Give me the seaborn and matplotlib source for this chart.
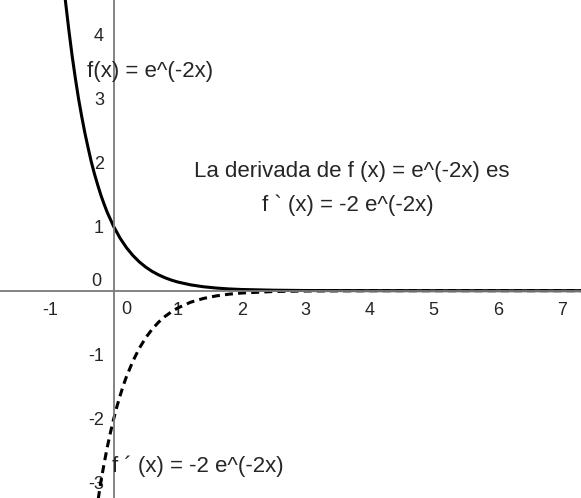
import pandas as pd
import seaborn as sns
import matplotlib.pyplot as plt

x_f = [-0.76, -0.7, -0.65, -0.6, -0.55, -0.5, -0.45, -0.4, -0.35, -0.3, -0.25, -0.2, -0.15, -0.1, -0.05,
       0.0, 0.1, 0.2, 0.3, 0.4, 0.5, 0.6, 0.7, 0.8, 0.9, 1.0, 1.2, 1.4, 1.6, 1.8, 2.0, 2.5, 3.0, 4.0, 5.0, 6.0, 7.3]
y_f = [4.57, 4.06, 3.67, 3.32, 3.00, 2.72, 2.46, 2.23, 2.01, 1.82, 1.65, 1.49, 1.35, 1.22, 1.11,
       1.00, 0.819, 0.670, 0.549, 0.449, 0.368, 0.301, 0.247, 0.202, 0.165, 0.135, 0.091, 0.061, 0.041, 0.027, 0.018, 0.007, 0.002, 0.0003, 0.0, 0.0, 0.0]

# f'(x) = -2 e^(-2x)
x_d = [-0.26, -0.2, -0.15, -0.1, -0.05, 0.0, 0.05, 0.1, 0.15, 0.2, 0.3, 0.4, 0.5, 0.6, 0.7, 0.8, 0.9, 1.0,
       1.2, 1.4, 1.6, 1.8, 2.0, 2.5, 3.0, 4.0, 5.0, 6.0, 7.3]
y_d = [-3.37, -2.98, -2.70, -2.44, -2.21, -2.00, -1.81, -1.64, -1.48, -1.34, -1.10, -0.899, -0.736, -0.602, -0.493, -0.404, -0.331, -0.271,
       -0.181, -0.122, -0.082, -0.055, -0.037, -0.013, -0.005, -0.0007, 0.0, 0.0, 0.0]

x_ticks = [-1, 1, 2, 3, 4, 5, 6, 7]
y_ticks = [-3, -2, -1, 1, 2, 3, 4]

sns.set_style("white")
plt.rcParams['font.family'] = ['Liberation Sans', 'DejaVu Sans']

fig = plt.figure(figsize=(5.81, 4.98), dpi=100)
ax = fig.add_axes([0, 0, 1, 1])

df_f = pd.DataFrame({'x': x_f, 'y': y_f})
df_d = pd.DataFrame({'x': x_d, 'y': y_d})
sns.lineplot(data=df_f, x='x', y='y', ax=ax, color='black', linewidth=2.2, sort=False)
sns.lineplot(data=df_d, x='x', y='y', ax=ax, color='black', linewidth=2.2, sort=False,
             linestyle=(0, (2.6, 1.7)))

ax.set_xlim(-1.777, 7.30)
ax.set_ylim(-3.24, 4.542)
ax.set_xlabel('')
ax.set_ylabel('')

axis_col = '#7a7a7a'
for s in ['top', 'right']:
    ax.spines[s].set_visible(False)
for s in ['left', 'bottom']:
    ax.spines[s].set_position(('data', 0))
    ax.spines[s].set_color(axis_col)
    ax.spines[s].set_linewidth(1.3)

ax.set_xticks(x_ticks)
ax.set_yticks(y_ticks)
ax.set_xticklabels([str(t) for t in x_ticks])
ax.set_yticklabels([str(t) for t in y_ticks])
ax.tick_params(axis='both', direction='out', length=3, width=1, color='#555555',
               labelsize=13, pad=4)
ax.tick_params(axis='x', pad=5)

# origin labels
ax.text(0.19, -0.3, '0', fontsize=13, ha='center', va='center')
ax.text(-0.27, 0.14, '0', fontsize=13, ha='center', va='center')

ax.text(-0.42, 3.43, 'f(x) = e^(-2x)', fontsize=16, ha='left', va='center')
ax.text(3.72, 1.86, 'La derivada de f (x) = e^(-2x) es', fontsize=16, ha='center', va='center')
ax.text(3.66, 1.33, 'f ` (x) = -2 e^(-2x)', fontsize=16, ha='center', va='center')
ax.text(-0.03, -2.75, 'f \u00b4 (x) = -2 e^(-2x)', fontsize=16, ha='left', va='center')

plt.savefig('out.png', dpi=100)
